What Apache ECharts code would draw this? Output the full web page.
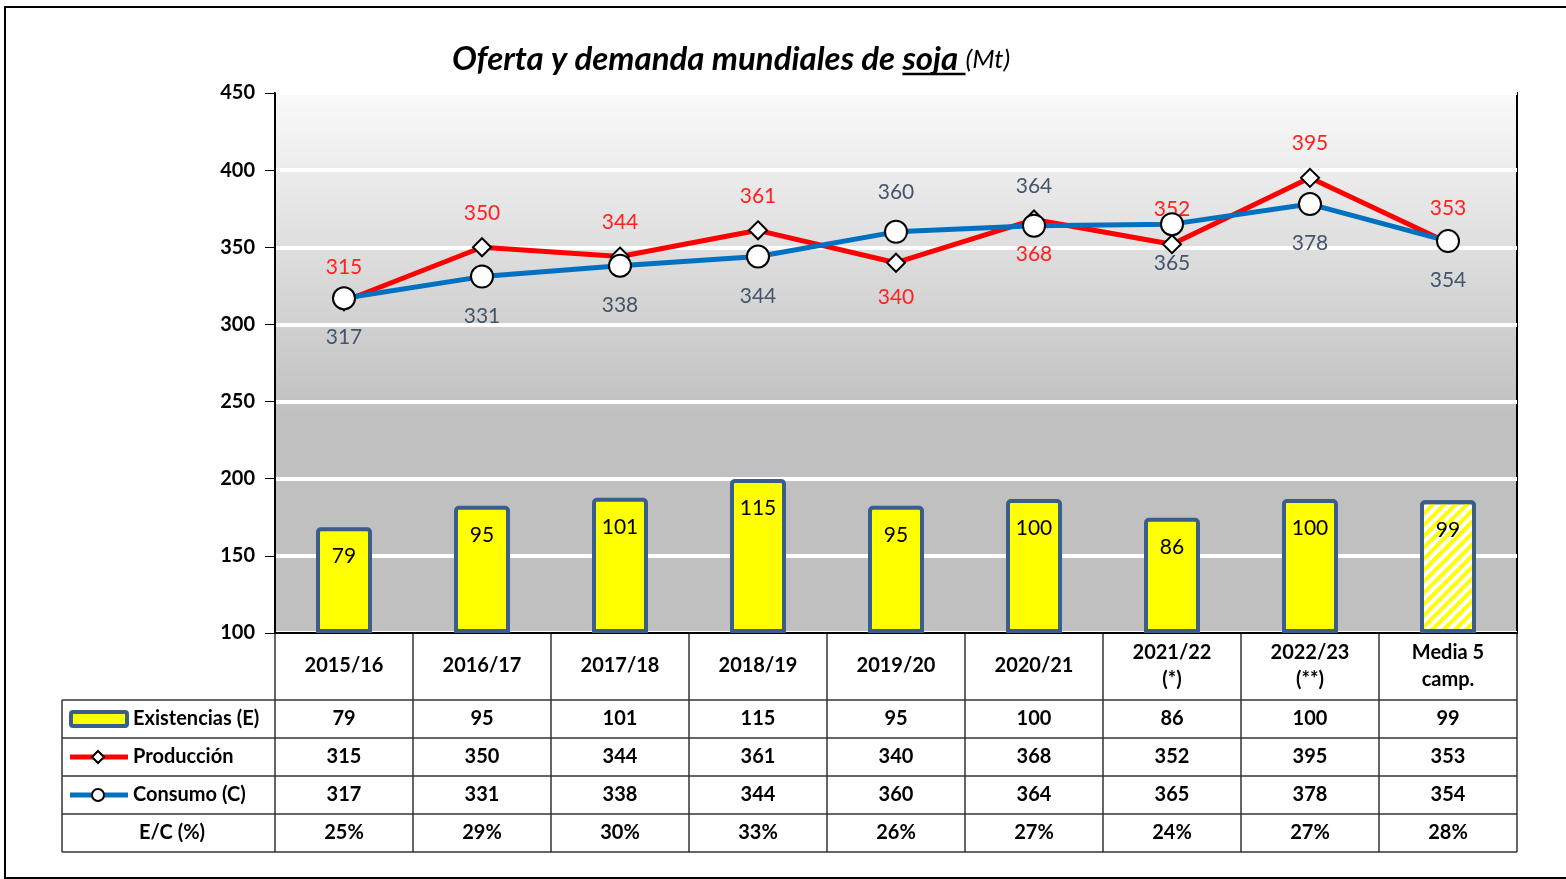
<!DOCTYPE html>
<html>
<head>
<meta charset="utf-8">
<script src="https://cdn.jsdelivr.net/npm/echarts@6/dist/echarts.min.js"></script>
<style>
    html, body {margin: 0; padding: 0; background: #fff;}
    #main {width: 1566px; height: 879px;}
</style>
</head>
<body>
<div id="main"></div>
<script>
// datos (Mt)
var campanas = ['2015/16', '2016/17', '2017/18', '2018/19', '2019/20', '2020/21', '2021/22\n(*)', '2022/23\n(**)', 'Media 5\ncamp.'];
var existencias = [79, 95, 101, 115, 95, 100, 86, 100, 99];
var produccion = [315, 350, 344, 361, 340, 368, 352, 395, 353];
var consumo = [317, 331, 338, 344, 360, 364, 365, 378, 354];
var ecPct = ['25%', '29%', '30%', '33%', '26%', '27%', '24%', '27%', '28%'];
var prodLabelPos = ['top', 'top', 'top', 'top', 'bottom', 'bottom', 'top', 'top', 'top'];
var consLabelPos = ['bottom', 'bottom', 'bottom', 'bottom', 'top', 'top', 'bottom', 'bottom', 'bottom'];

var FONT = 'Lato';
var AZUL_BORDE = '#3a5e8c';

var chart = echarts.init(document.getElementById('main'));

var barData = existencias.map(function (v, i) {
    if (i === existencias.length - 1) {
        // media: barra rayada
        return {
            value: v,
            itemStyle: {
                color: '#ffffff',
                decal: {
                    symbol: 'rect',
                    symbolSize: 1,
                    color: '#ffff00',
                    dashArrayX: [1, 0],
                    dashArrayY: [4, 4],
                    rotation: -Math.PI / 4
                }
            }
        };
    }
    return v;
});

var option = {
    animation: false,
    grid: {
        left: 275,
        right: 49,
        top: 93,
        bottom: 246,
        show: true,
        borderColor: '#000',
        borderWidth: 2,
        backgroundColor: {
            type: 'linear', x: 0, y: 0, x2: 0, y2: 1,
            colorStops: [
                {offset: 0, color: '#fafafa'},
                {offset: 0.6, color: '#c0c0c0'},
                {offset: 1, color: '#c0c0c0'}
            ]
        }
    },
    xAxis: {
        type: 'category',
        data: campanas,
        axisLine: {show: true, lineStyle: {color: '#000', width: 2}},
        axisTick: {show: false},
        axisLabel: {
            color: '#000',
            fontFamily: FONT,
            fontWeight: 'bold',
            fontSize: 20,
            lineHeight: 27,
            margin: 33,
            verticalAlign: 'middle'
        }
    },
    yAxis: [{
        type: 'value',
        min: 100,
        max: 450,
        interval: 50,
        axisLine: {show: true, lineStyle: {color: '#000', width: 2}},
        axisTick: {show: true, length: 10, lineStyle: {color: '#000', width: 1}},
        axisLabel: {
            color: '#000',
            fontFamily: FONT,
            fontWeight: 'bold',
            fontSize: 20,
            margin: 20
        },
        splitLine: {show: true, lineStyle: {color: '#ffffff', width: 4}}
    }, {
        // eje oculto para las existencias
        type: 'value',
        min: 0,
        max: 403,
        show: false,
        splitLine: {show: false}
    }],
    series: [
        {
            name: 'Existencias (E)',
            type: 'bar',
            yAxisIndex: 1,
            barWidth: 56,
            itemStyle: {
                color: '#ffff00',
                borderColor: AZUL_BORDE,
                borderWidth: 4,
                borderRadius: [3, 3, 0, 0]
            },
            label: {
                show: true,
                position: 'insideTop',
                distance: 19,
                color: '#000',
                fontFamily: FONT,
                fontSize: 21
            },
            data: barData
        },
        {
            name: 'Producción',
            type: 'line',
            z: 3,
            symbol: 'diamond',
            symbolSize: 18,
            lineStyle: {color: '#ff0000', width: 5},
            itemStyle: {color: '#ffffff', borderColor: '#000', borderWidth: 2},
            label: {
                show: true,
                distance: 14,
                color: '#ff2020',
                fontFamily: FONT,
                fontSize: 21
            },
            data: produccion.map(function (v, i) {
                return {value: v, label: {position: prodLabelPos[i]}};
            })
        },
        {
            name: 'Consumo (C)',
            type: 'line',
            z: 4,
            symbol: 'circle',
            symbolSize: 22,
            lineStyle: {color: '#0070c0', width: 5},
            itemStyle: {color: '#ffffff', borderColor: '#000', borderWidth: 2},
            label: {
                show: true,
                distance: 17,
                color: '#44546a',
                fontFamily: FONT,
                fontSize: 21
            },
            data: consumo.map(function (v, i) {
                return {value: v, label: {position: consLabelPos[i]}};
            })
        }
    ]
};

chart.setOption(option);

// ---- titulo con subrayado ----
var TFONT = 'italic bold 33px ' + FONT;
var ctx = document.createElement('canvas').getContext('2d');
ctx.font = TFONT;
var t1 = 'Oferta y demanda mundiales de ';
var t2 = 'soja ';
var w1 = ctx.measureText(t1).width;
var w2 = ctx.measureText(t2).width;
var tx = 452, ty = 59;

var graphics = [
    {type: 'rect', shape: {x: 5, y: 7, width: 1600, height: 871}, style: {fill: 'none', stroke: '#000', lineWidth: 2}, silent: true},
    {type: 'text', x: tx, y: ty, style: {text: t1, font: TFONT, fill: '#000', verticalAlign: 'middle'}},
    {type: 'text', x: tx + w1, y: ty, style: {text: t2, font: TFONT, fill: '#000', verticalAlign: 'middle'}},
    {type: 'line', shape: {x1: tx + w1, y1: ty + 15, x2: tx + w1 + w2, y2: ty + 15}, style: {stroke: '#000', lineWidth: 2.5}},
    {type: 'text', x: tx + w1 + w2, y: ty + 1, style: {text: '(Mt)', font: 'italic 26px ' + FONT, fill: '#000', verticalAlign: 'middle'}}
];

// ---- tabla de datos ----
var x0 = chart.convertToPixel({xAxisIndex: 0}, 0);
var x1 = chart.convertToPixel({xAxisIndex: 0}, 1);
var band = x1 - x0;
var gridLeft = x0 - band / 2;
var gridRight = gridLeft + band * campanas.length;
var yAxisBottom = chart.convertToPixel({yAxisIndex: 0}, 100);
var tableLeft = 62;
var rowTops = [700, 738, 776, 814, 852];
var rows = [existencias, produccion, consumo, ecPct];
var lineCol = '#333';
var CELLFONT = 'bold 20px ' + FONT;

for (var k = 0; k <= campanas.length; k++) {
    var xx = gridLeft + k * band;
    graphics.push({type: 'line', shape: {x1: xx, y1: yAxisBottom, x2: xx, y2: rowTops[4]}, style: {stroke: lineCol, lineWidth: 1.5}});
}
graphics.push({type: 'line', shape: {x1: tableLeft, y1: rowTops[0], x2: tableLeft, y2: rowTops[4]}, style: {stroke: lineCol, lineWidth: 1.5}});
rowTops.forEach(function (yy) {
    graphics.push({type: 'line', shape: {x1: tableLeft, y1: yy, x2: gridRight, y2: yy}, style: {stroke: lineCol, lineWidth: 1.5}});
});

rows.forEach(function (row, r) {
    var cy = (rowTops[r] + rowTops[r + 1]) / 2;
    row.forEach(function (v, i) {
        graphics.push({
            type: 'text',
            x: chart.convertToPixel({xAxisIndex: 0}, i),
            y: cy,
            style: {text: String(v), font: CELLFONT, fill: '#000', align: 'center', verticalAlign: 'middle'}
        });
    });
});

// leyenda dentro de la tabla
var legY = rowTops.slice(0, 4).map(function (t, r) { return (t + rowTops[r + 1]) / 2; });
graphics.push({type: 'rect', shape: {x: 71, y: legY[0] - 7, width: 56, height: 14, r: 2}, style: {fill: '#ffff00', stroke: AZUL_BORDE, lineWidth: 4}});
graphics.push({type: 'line', shape: {x1: 70, y1: legY[1], x2: 128, y2: legY[1]}, style: {stroke: '#ff0000', lineWidth: 5}});
graphics.push({type: 'polygon', shape: {points: [[98, legY[1] - 6], [104, legY[1]], [98, legY[1] + 6], [92, legY[1]]]}, style: {fill: '#fff', stroke: '#000', lineWidth: 2}});
graphics.push({type: 'line', shape: {x1: 70, y1: legY[2], x2: 128, y2: legY[2]}, style: {stroke: '#0070c0', lineWidth: 5}});
graphics.push({type: 'circle', shape: {cx: 98, cy: legY[2], r: 6}, style: {fill: '#fff', stroke: '#000', lineWidth: 2}});
var legTexts = ['Existencias (E)', 'Producción', 'Consumo (C)'];
legTexts.forEach(function (t, r) {
    graphics.push({type: 'text', x: 133, y: legY[r], style: {text: t, font: CELLFONT, fill: '#000', verticalAlign: 'middle'}});
});
graphics.push({type: 'text', x: 172, y: legY[3], style: {text: 'E/C (%)', font: CELLFONT, fill: '#000', align: 'center', verticalAlign: 'middle'}});

chart.setOption({graphic: graphics});
</script>
</body>
</html>
